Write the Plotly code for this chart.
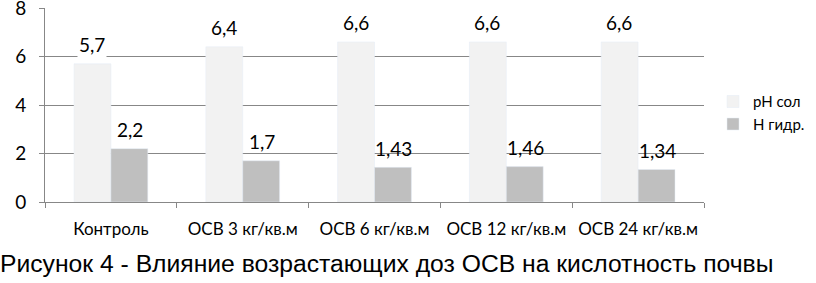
import plotly.graph_objects as go

categories = ["Контроль", "ОСВ 3 кг/кв.м", "ОСВ 6 кг/кв.м", "ОСВ 12 кг/кв.м", "ОСВ 24 кг/кв.м"]
ph_sol = [5.7, 6.4, 6.6, 6.6, 6.6]
h_gidr = [2.2, 1.7, 1.43, 1.46, 1.34]
ph_labels = ["5,7", "6,4", "6,6", "6,6", "6,6"]
h_labels = ["2,2", "1,7", "1,43", "1,46", "1,34"]
series_names = ["pH сол", "Н гидр."]
y_ticks = [0, 2, 4, 6, 8]

FONT = "Lato, Open Sans, sans-serif"
LABEL_FONT = dict(family=FONT, size=19, color="#000")
GRID = "#878787"

W, H = 816, 283
L, R, T, B = 45, 20, 8, 81
plot_w = W - L - R
x_end = (704 - L) / plot_w

fig = go.Figure()
fig.add_trace(go.Bar(x=categories, y=ph_sol, name=series_names[0], marker_color="#f2f2f2"))
fig.add_trace(go.Bar(x=categories, y=h_gidr, name=series_names[1], marker_color="#bfbfbf"))

annotations = []
for cat, v, t in zip(categories, ph_sol, ph_labels):
    annotations.append(dict(x=cat, y=v, text=t, xref="x", yref="y", showarrow=False,
                            xshift=-19, yshift=19, font=LABEL_FONT, bgcolor="white",
                            borderpad=1))
for cat, v, t in zip(categories, h_gidr, h_labels):
    annotations.append(dict(x=cat, y=v, text=t, xref="x", yref="y", showarrow=False,
                            xshift=19, yshift=19, font=LABEL_FONT,
                            borderpad=1))
annotations.append(dict(x=0, y=0, xref="paper", yref="paper", xanchor="left", yanchor="middle",
                        xshift=-L - 2, yshift=-61, showarrow=False,
                        text="Рисунок 4 - Влияние возрастающих доз ОСВ на кислотность почвы",
                        font=dict(family="Liberation Sans, Arial, sans-serif", size=24.7, color="#000")))

fig.update_layout(
    width=W, height=H,
    margin=dict(l=L, r=R, t=T, b=B, autoexpand=False),
    paper_bgcolor="white", plot_bgcolor="white",
    barmode="group", bargap=0.44, bargroupgap=0,
    showlegend=True,
    legend=dict(x=(713 - L) / plot_w, y=0.46, xanchor="left", yanchor="middle",
                font=dict(family=FONT, size=15, color="#000"),
                itemwidth=30, tracegroupgap=4),
    annotations=annotations,
    xaxis=dict(domain=[0, x_end], showline=True, linecolor=GRID, linewidth=1, ticks="outside",
               tickson="boundaries", ticklen=5, tickcolor=GRID, automargin=False,
               tickfont=dict(family=FONT, size=17, color="#000"), ticklabelstandoff=12,
               showgrid=False, ticklabeloverflow="allow"),
    yaxis=dict(range=[0, 8], tickvals=y_ticks, showline=True, linecolor=GRID, linewidth=1,
               ticks="outside", ticklen=5, tickcolor=GRID, gridcolor=GRID, gridwidth=1,
               automargin=False, ticklabelstandoff=9,
               tickfont=dict(family=FONT, size=19, color="#000"), ticklabeloverflow="allow",
               zeroline=False),
)
fig.write_html("out.html", config={"displayModeBar": False},
               post_script="document.body.style.margin='0';document.body.style.overflow='hidden';")
